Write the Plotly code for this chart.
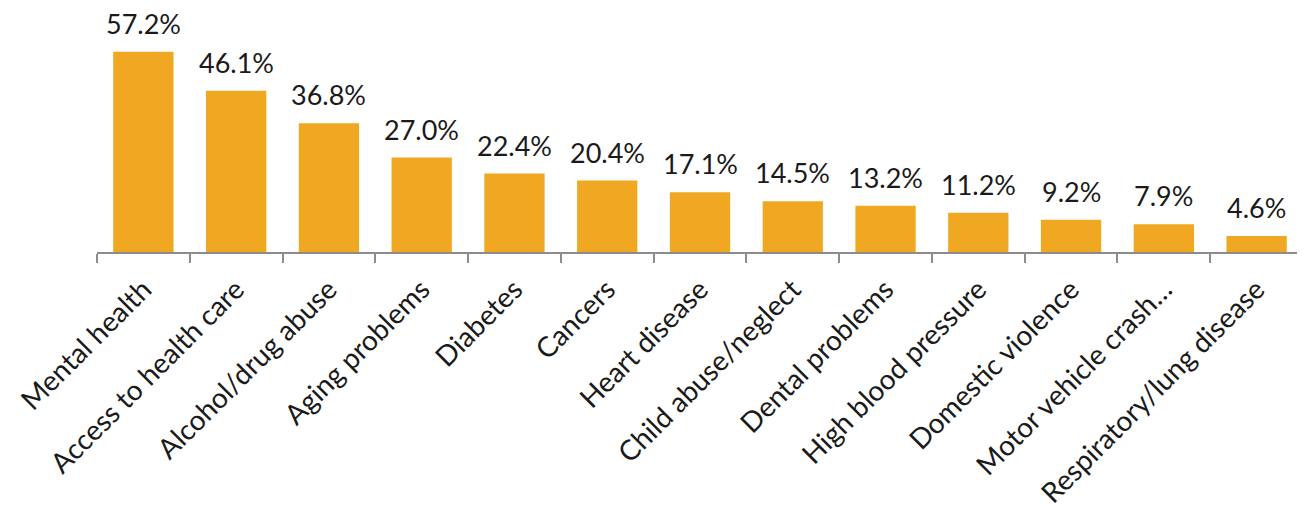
import plotly.graph_objects as go

categories = ["Mental health", "Access to health care", "Alcohol/drug abuse", "Aging problems",
              "Diabetes", "Cancers", "Heart disease", "Child abuse/neglect", "Dental problems",
              "High blood pressure", "Domestic violence", "Motor vehicle crash…",
              "Respiratory/lung disease"]
values = [57.2, 46.1, 36.8, 27.0, 22.4, 20.4, 17.1, 14.5, 13.2, 11.2, 9.2, 7.9, 4.6]
labels = [f"{v:.1f}%" for v in values]

fig = go.Figure(go.Bar(
    x=categories, y=values,
    marker=dict(color="#F0A823", line=dict(width=0)),
    cliponaxis=False, width=0.65,
))
for c, v, t in zip(categories, values, labels):
    fig.add_annotation(x=c, y=v, text=t, showarrow=False, yanchor="bottom",
                       yshift=10, font=dict(size=27, color="#1a1a1a"))
fig.update_layout(
    width=1297, height=505,
    margin=dict(l=89, r=2, t=0, b=261, autoexpand=False),
    plot_bgcolor="white", paper_bgcolor="white",
    font=dict(family="Lato, Noto Sans, sans-serif", size=27, color="#1a1a1a"),
    showlegend=False,
    bargap=0.35,
)
fig.update_xaxes(
    showline=True, linecolor="#8c8c8c", linewidth=2,
    ticks="outside", tickson="boundaries", ticklen=9, tickwidth=2, tickcolor="#8c8c8c",
    tickangle=-45, tickfont=dict(size=28), showgrid=False, automargin=False,
    ticklabelstandoff=8,
)
fig.update_yaxes(visible=False, range=[0, 244 / 3.5], showgrid=False)
fig.write_html("out.html")
